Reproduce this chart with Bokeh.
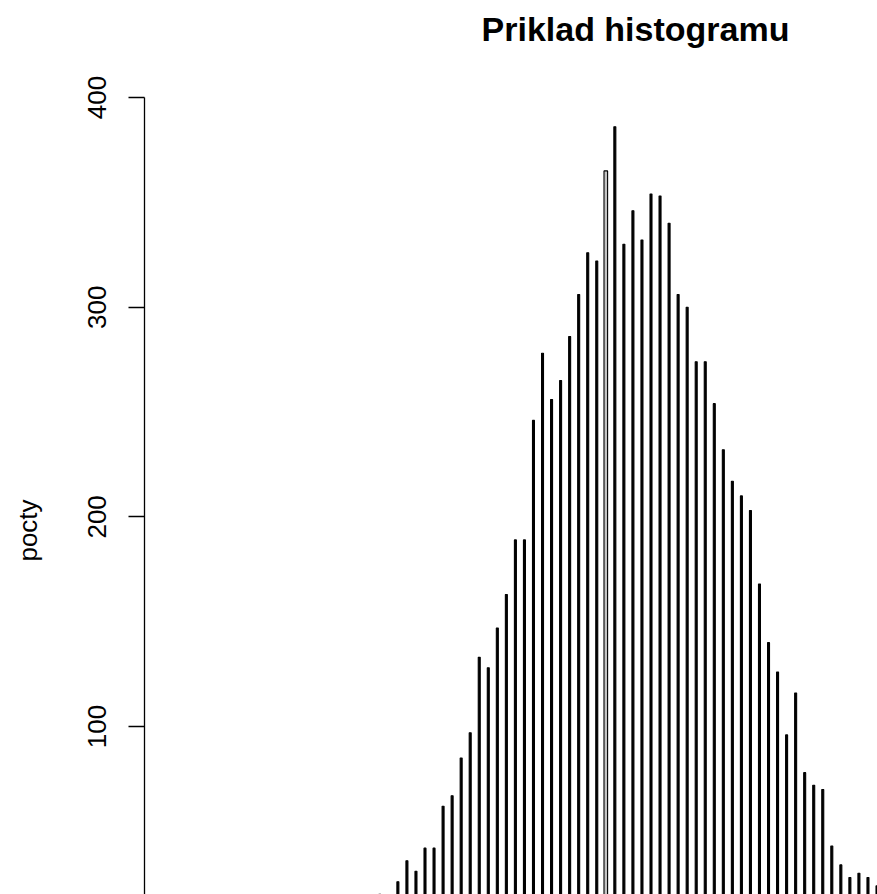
import math
from bokeh.plotting import figure
from bokeh.layouts import row
from bokeh.models import Range1d, FixedTicker, Label, ColumnDataSource
from bokeh.embed import file_html
from bokeh.resources import INLINE

# ---- data ----
counts = [20, 17, 26, 36, 31, 42, 42, 62, 67, 85,
          97, 133, 128, 147, 163, 189, 189, 246, 278, 256,
          265, 286, 306, 326, 322, 365, 386, 330, 346, 332,
          354, 353, 340, 306, 300, 274, 274, 254, 232, 217,
          210, 203, 168, 140, 126, 96, 116, 78, 72, 70,
          43, 34, 28, 30, 28, 24]
bin_index = list(range(len(counts)))
y_ticks = [0, 100, 200, 300, 400]
title_text = "Priklad histogramu"
y_label = "pocty"
highlight_bin = 25

# ---- layout (pixels) ----
W, H = 877, 894
WL = 60            # narrow strip that carries the y-axis title
LEFT = 144         # page x of the y axis
bin0_px = 379.3
px_per_bin = 9.04
zero_px = 935.7
px_per_unit = 2.0967

def xd(px):
    return (px - bin0_px) / px_per_bin

def yd(py):
    return (zero_px - py) / px_per_unit

y_range = Range1d(yd(H), yd(0))

p = figure(width=W - WL, height=H,
           x_range=Range1d(xd(LEFT), xd(W)),
           y_range=y_range,
           output_backend="svg", toolbar_location=None,
           x_axis_location=None,
           min_border_left=LEFT - WL, min_border_right=0,
           min_border_top=0, min_border_bottom=0)
p.outline_line_color = None
p.xgrid.visible = False
p.ygrid.visible = False
p.background_fill_color = "white"
p.border_fill_color = "white"

fills = ["#c4c4c4" if i == highlight_bin else "black" for i in bin_index]
widths = [0.40 if i == highlight_bin else 0.22 for i in bin_index]
src = ColumnDataSource(dict(x=bin_index, top=counts, fill=fills, w=widths))
p.vbar(x="x", top="top", bottom=0, width="w", source=src,
       fill_color="fill", line_color="black", line_width=1.1)

ax = p.yaxis[0]
ax.ticker = FixedTicker(ticks=y_ticks, minor_ticks=[])
ax.bounds = (0, 400)
ax.major_label_orientation = "vertical"
ax.major_label_text_font = "Liberation Sans"
ax.major_label_text_font_size = "26px"
ax.major_label_text_color = "black"
ax.major_label_standoff = 22
ax.major_tick_out = 16
ax.major_tick_in = 0
ax.minor_tick_out = 0
ax.minor_tick_in = 0
ax.axis_line_width = 1.3
ax.major_tick_line_width = 1.3
ax.axis_line_color = "black"
ax.major_tick_line_color = "black"

p.add_layout(Label(x=xd(635), y=yd(28.5), text=title_text,
                   text_font="Liberation Sans", text_font_style="bold",
                   text_font_size="34px", text_color="black",
                   text_align="center", text_baseline="alphabetic"))

# left strip with the y-axis title
pl = figure(width=WL, height=H, x_range=Range1d(0, WL), y_range=y_range,
            output_backend="svg", toolbar_location=None,
            x_axis_location=None, y_axis_location=None,
            min_border_left=0, min_border_right=0,
            min_border_top=0, min_border_bottom=0)
pl.outline_line_color = None
pl.xgrid.visible = False
pl.ygrid.visible = False
pl.border_fill_color = "white"
pl.add_layout(Label(x=27.5, y=yd(530), text=y_label, angle=math.pi / 2,
                    text_font="Liberation Sans", text_font_size="26px",
                    text_color="black",
                    text_align="center", text_baseline="middle"))

layout = row(pl, p, spacing=0)
open("out.html", "w").write(file_html(layout, INLINE))
